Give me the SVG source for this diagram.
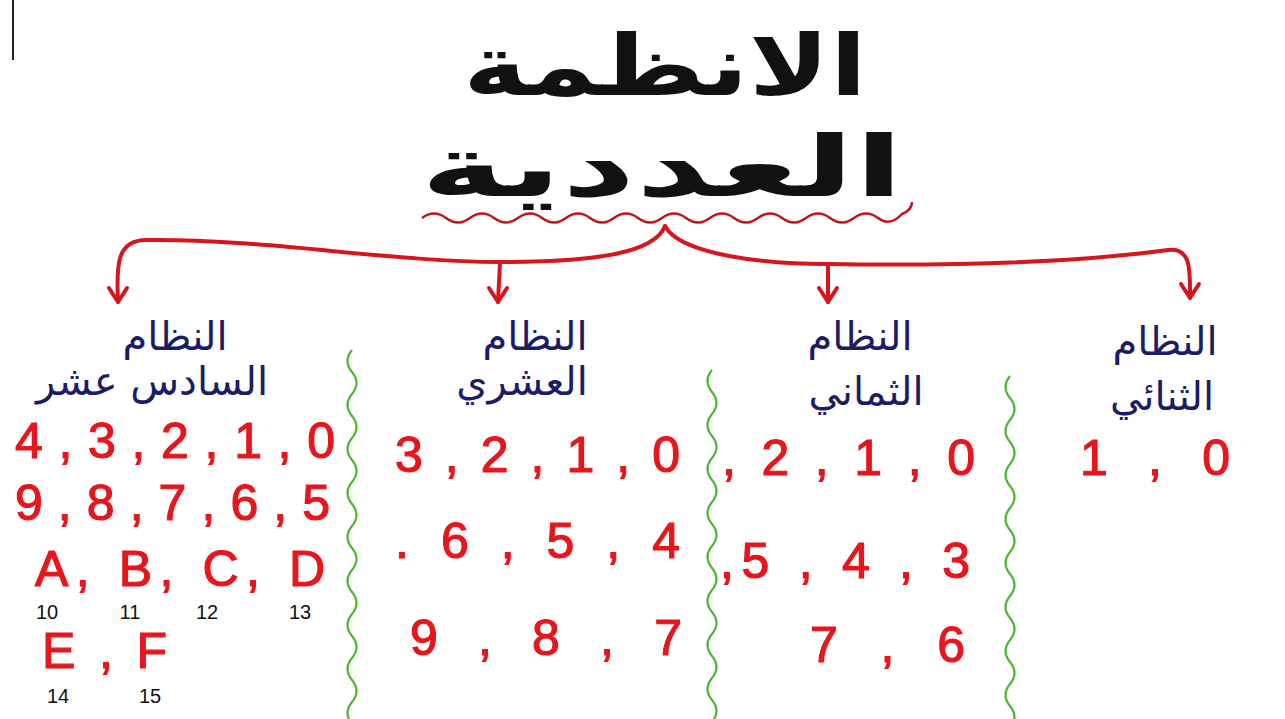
<svg xmlns="http://www.w3.org/2000/svg" width="1285" height="719" viewBox="0 0 1285 719">
<style>
.title{font-family:"DejaVu Sans",sans-serif;font-weight:bold;font-size:80px;fill:#111;text-anchor:middle}
.lbl{font-family:"DejaVu Sans",sans-serif;font-size:40px;fill:#1c1c66;text-anchor:middle}
.num{font-family:"Liberation Sans",sans-serif;font-size:50px;fill:#e8151c;stroke:#e8151c;stroke-width:1.2}
.small{font-family:"Liberation Sans",sans-serif;font-size:20px;fill:#111;text-anchor:middle}
.conn{fill:none;stroke:#d8141c;stroke-width:4;stroke-linecap:round;stroke-linejoin:round}
.wave{fill:none;stroke:#4db733;stroke-width:2.2}
</style>
<defs>
<marker id="ah" viewBox="0 0 24 24" refX="12" refY="21" markerWidth="24" markerHeight="24" markerUnits="userSpaceOnUse" orient="0">
<path d="M3,7 L12,21 L21,7" fill="none" stroke="#d8141c" stroke-width="4" stroke-linecap="round" stroke-linejoin="round"/>
</marker>
</defs>
<rect width="1285" height="719" fill="#fff"/>
<line x1="13" y1="0" x2="13" y2="60" stroke="#222" stroke-width="2"/>
<g id="title">
<text class="title" transform="translate(665,95) scale(1.36,1.05)" x="0" y="0">الانظمة</text>
<text class="title" transform="translate(662,196) scale(1.8,1.05)" x="0" y="0">العددية</text>
<path d="M422 218 q12 -9 24 0 t24 0 t24 0 t24 0 t24 0 t24 0 t24 0 t24 0 t24 0 t24 0 t24 0 t24 0 t24 0 t24 0 t24 0 t24 0 t24 0 t24 0 t24 0 t24 -4 q10 -4 10 -12" fill="none" stroke="#c0141c" stroke-width="2.5"/>
</g>
<g id="connectors">
<path class="conn" d="M665 226 C655 252 600 262 500 262 C390 262 260 238 145 240 C118 241 116 262 118 302" marker-end="url(#ah)"/>
<path class="conn" d="M665 226 C680 254 760 264 828 264 C960 266 1080 262 1168 250 C1192 247 1190 272 1190 298" marker-end="url(#ah)"/>
<path class="conn" d="M500 262 L498 302" marker-end="url(#ah)"/>
<path class="conn" d="M828 264 L828 302" marker-end="url(#ah)"/>
</g>
<g id="dividers">
<path class="wave" d="M352 350 q-9 11 0 22 t0 22 t0 22 t0 22 t0 22 t0 22 t0 22 t0 22 t0 22 t0 22 t0 22 t0 22 t0 22 t0 22 t0 22 t0 22 t0 22"/>
<path class="wave" d="M712 370 q-9 11 0 22 t0 22 t0 22 t0 22 t0 22 t0 22 t0 22 t0 22 t0 22 t0 22 t0 22 t0 22 t0 22 t0 22 t0 22 t0 22"/>
<path class="wave" d="M1010 376 q-9 11 0 22 t0 22 t0 22 t0 22 t0 22 t0 22 t0 22 t0 22 t0 22 t0 22 t0 22 t0 22 t0 22 t0 22 t0 22 t0 22"/>
</g>
<g id="binary">
<text class="lbl" x="1165" y="355">النظام</text>
<text class="lbl" x="1162" y="410" font-size="46">الثنائي</text>
<text class="num" x="1080" y="475" textLength="150" lengthAdjust="spacing">1 , 0</text>
</g>
<g id="octal">
<text class="lbl" x="860" y="350">النظام</text>
<text class="lbl" x="866" y="405" font-size="44">الثماني</text>
<text class="num" x="722" y="475" textLength="253" lengthAdjust="spacing">, 2 , 1 , 0</text>
<text class="num" x="720" y="578" textLength="250" lengthAdjust="spacing">,5 , 4 , 3</text>
<text class="num" x="810" y="662" textLength="155" lengthAdjust="spacing">7 , 6</text>
</g>
<g id="decimal">
<text class="lbl" x="535" y="350">النظام</text>
<text class="lbl" x="522" y="395" font-size="44">العشري</text>
<text class="num" x="395" y="472" textLength="285" lengthAdjust="spacing">3 , 2 , 1 , 0</text>
<text class="num" x="395" y="558" textLength="285" lengthAdjust="spacing">. 6 , 5 , 4</text>
<text class="num" x="410" y="655" font-size="58" textLength="272" lengthAdjust="spacing">9 , 8 , 7</text>
</g>
<g id="hex">
<text class="lbl" x="175" y="350">النظام</text>
<text class="lbl" x="152" y="395" font-size="36">السادس عشر</text>
<text class="num" x="15" y="458" textLength="320" lengthAdjust="spacing">4,3,2,1,0</text>
<text class="num" x="15" y="520" textLength="315" lengthAdjust="spacing">9,8,7,6,5</text>
<text class="num" x="35" y="586" textLength="290" lengthAdjust="spacing">A, B, C, D</text>
<text class="small" x="47" y="619">10</text>
<text class="small" x="130" y="619">11</text>
<text class="small" x="207" y="619">12</text>
<text class="small" x="300" y="619">13</text>
<text class="num" x="42" y="668" textLength="125" lengthAdjust="spacing">E , F</text>
<text class="small" x="58" y="703">14</text>
<text class="small" x="150" y="703">15</text>
</g>
</svg>
